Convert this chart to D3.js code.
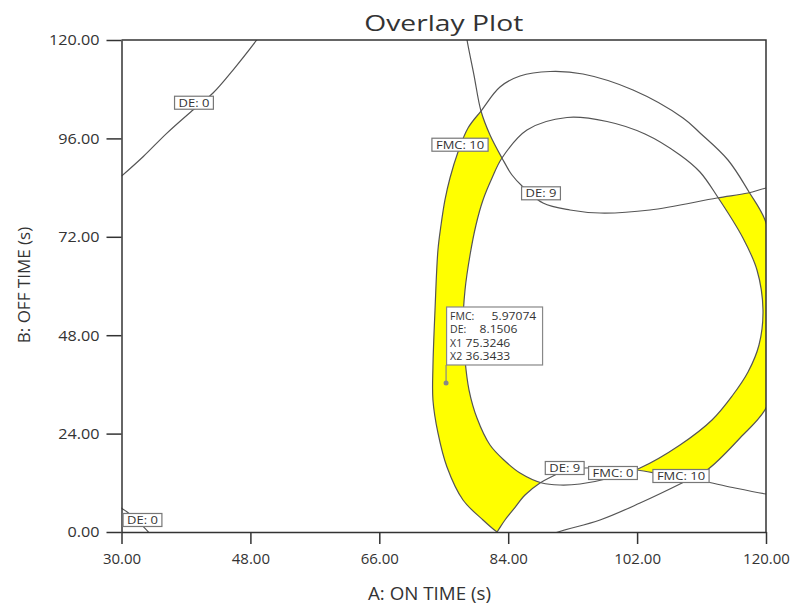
<!DOCTYPE html>
<html>
<head>
<meta charset="utf-8">
<script src="https://cdn.jsdelivr.net/npm/d3@7"></script>
<style>
  body { margin: 0; background: #fff; }
  svg text { font-family: "Open Sans", sans-serif; fill: #333; }
</style>
</head>
<body>
<script>
// axes: A = ON TIME (s), B = OFF TIME (s)
const xTicks = [30, 48, 66, 84, 102, 120];
const yTicks = [0, 24, 48, 72, 96, 120];

// contour lines, [ON TIME, OFF TIME]
const de0Top = [[30, 86.8], [33.05, 91.6], [36.31, 97.24], [39.98, 102.93], [42.78, 107.07], [45.57, 112.68], [48.88, 120], [49.3, 121]];
const de0Bottom = [[29.8, 6.1], [30, 5.8], [30.7, 5.0], [32.0, 3.1], [33.05, 1.3], [33.74, 0], [34.0, -0.6]];
const de9Top = [[78.1, 122], [78.25, 120], [79.22, 111.46], [80.2, 102.68], [81.46, 96.83], [83.13, 91.22], [84.53, 87.07],
  [86.07, 84.15], [88.86, 80.24], [92.63, 78.54], [96.82, 77.8], [103.8, 78.54], [113.16, 81.46], [117.49, 82.68], [120, 83.9], [121.5, 84.3]];
const de9Bottom = [[81.9, -1.2], [82.44, 0], [83.55, 2.93], [84.67, 5.37], [86.35, 9.02], [88.44, 11.95], [90.26, 13.66], [91.93, 15.12],
  [94.72, 15.61], [98.22, 15.61], [101.99, 15.12], [105.2, 14.15], [108.41, 13.17], [111.76, 12.2], [115.67, 10.73], [120, 9.27], [121.5, 8.9]];
// closed contours
const fmc10 = [[82.44, 0], [80.48, 2.93], [77.69, 7.8], [75.45, 15.85], [74.19, 24.15], [73.49, 32.2], [73.49, 40.24], [73.78, 54.15],
  [74.19, 68.78], [74.62, 74.88], [75.17, 80.98], [75.87, 86.34], [76.99, 92.68], [78.39, 98.54], [80.2, 102.68], [82.85, 108.54],
  [85.65, 111.22], [89.84, 112.32], [94.44, 111.71], [101.43, 107.8], [108.41, 100.98], [110.79, 97.32], [114.69, 90.73], [117.63, 82.93],
  [119.86, 76.1], [121.4, 63.9], [121.82, 51.71], [121.26, 39.51], [120, 30.24], [116.37, 22.93], [111.76, 15.12], [108.27, 11.95],
  [102.41, 7.07], [96.82, 2.93], [90.96, 0], [87.05, -2.44], [84.25, -1.95]];
const fmc0 = [[83.13, 91.22], [86.62, 98.05], [92.21, 101.1], [97.8, 100.12], [103.1, 97.07], [107.99, 91.95], [110.78, 87.8],
  [113.16, 81.95], [116.78, 71.71], [118.74, 63.9], [119.58, 54.15], [119.02, 45.61], [117.49, 39.02], [115.27, 33.17], [112.46, 27.32],
  [107.99, 21.22], [102.41, 15.61], [98.22, 13.17], [94.03, 11.71], [91.24, 11.46], [88.72, 11.95], [85.65, 14.39], [83.55, 17.32],
  [81.46, 21.22], [79.64, 27.8], [78.53, 34.63], [77.97, 41.95], [77.69, 50.49], [77.97, 59.02], [78.67, 67.56], [79.5, 74.88],
  [80.48, 80.98], [81.74, 86.34]];

// contour tags
const tagText = ["DE: 0", "DE: 0", "FMC: 10", "DE: 9", "DE: 9", "FMC: 0", "FMC: 10"];
const tagX = [40.12, 32.93, 77.27, 88.58, 91.89, 98.63, 108.13];
const tagY = [104.7, 2.93, 94.46, 82.61, 15.61, 14.39, 13.66];

// flagged point
const flagNames = ["FMC:", "DE:", "X1", "X2"];
const flagValues = ["5.97074", "8.1506", "75.3246", "36.3433"];
const flagX = 75.3246, flagY = 36.3433;

const W = 795, H = 605;
const margin = { top: 40, right: 29, bottom: 73, left: 121.5 };
const width = W - margin.left - margin.right,
  height = H - margin.top - margin.bottom;

const svg = d3.select("body").append("svg")
  .attr("width", W).attr("height", H);

const x = d3.scaleLinear().domain([30, 120]).range([margin.left, margin.left + width]);
const y = d3.scaleLinear().domain([0, 120]).range([margin.top + height, margin.top]);

const open = d3.line().x(d => x(d[0])).y(d => y(d[1])).curve(d3.curveCatmullRom.alpha(0.5));
const closed = d3.line().x(d => x(d[0])).y(d => y(d[1])).curve(d3.curveCatmullRomClosed.alpha(0.5));
const pt = (a, b) => x(a) + "," + y(b);

// the reference text runs a little wide, so stretch it
function widen(sel, k) {
  sel.each(function () {
    const w = this.getComputedTextLength();
    d3.select(this).attr("textLength", w * k).attr("lengthAdjust", "spacingAndGlyphs");
  });
}

const defs = svg.append("defs");
defs.append("clipPath").attr("id", "plotClip")
  .append("rect").attr("x", x(30)).attr("y", y(120)).attr("width", width).attr("height", height);

// region where DE sits between the two DE: 9 contours
const clipD = "M" + pt(60, 130) + "L" + pt(78.1, 130)
  + open(de9Top).replace(/^M/, "L")
  + "L" + pt(130, 84.3) + "L" + pt(130, 8.9)
  + open(de9Bottom.slice().reverse()).replace(/^M/, "L")
  + "L" + pt(81.9, -10) + "L" + pt(60, -10) + "Z";
defs.append("clipPath").attr("id", "deClip")
  .append("path").attr("d", clipD);

const plot = svg.append("g").attr("clip-path", "url(#plotClip)");

// yellow: between FMC 0 and FMC 10, inside DE region
plot.append("g").attr("clip-path", "url(#deClip)")
  .append("path")
  .attr("d", closed(fmc10) + closed(fmc0))
  .attr("fill", "#ffff00")
  .attr("fill-rule", "evenodd");

const lines = [de0Top, de0Bottom, de9Top, de9Bottom];
plot.selectAll(".open").data(lines).join("path")
  .attr("class", "open")
  .attr("d", open)
  .attr("fill", "none").attr("stroke", "#555").attr("stroke-width", 1.2);
plot.selectAll(".ring").data([fmc10, fmc0]).join("path")
  .attr("class", "ring")
  .attr("d", closed)
  .attr("fill", "none").attr("stroke", "#555").attr("stroke-width", 1.2);

// axes
svg.append("g")
  .attr("transform", "translate(0," + y(0) + ")")
  .call(d3.axisBottom(x).tickValues(xTicks).tickFormat(d3.format(".2f")).tickSizeInner(12).tickSizeOuter(0).tickPadding(9))
  .call(g => g.selectAll("text").style("font-size", "15px").attr("fill", "#333"));
svg.append("g")
  .attr("transform", "translate(" + x(30) + ",0)")
  .call(d3.axisLeft(y).tickValues(yTicks).tickFormat(d3.format(".2f")).tickSizeInner(15).tickSizeOuter(0).tickPadding(7))
  .call(g => g.selectAll("text").style("font-size", "15px").attr("fill", "#333"))
  .call(g => widen(g.selectAll("text"), 1.08));
svg.selectAll(".domain, .tick line").attr("stroke", "#333").attr("stroke-width", 1.5);

// top and right frame
svg.append("path")
  .attr("d", "M" + pt(30, 120) + "H" + x(120) + "V" + y(0))
  .attr("fill", "none").attr("stroke", "#333").attr("stroke-width", 1.5);

// contour tags
const tags = svg.append("g").selectAll("g").data(tagText).join("g")
  .attr("transform", (d, i) => "translate(" + x(tagX[i]) + "," + y(tagY[i]) + ")");
tags.append("text")
  .attr("text-anchor", "middle").attr("dy", "0.35em")
  .style("font-size", "11px").attr("fill", "#444")
  .text(d => d)
  .call(widen, 1.18);
tags.each(function () {
  const g = d3.select(this);
  const w = +g.select("text").attr("textLength");
  g.insert("rect", "text")
    .attr("x", -w / 2 - 4).attr("y", -6.5).attr("width", w + 8).attr("height", 13)
    .attr("fill", "#fff").attr("stroke", "#777").attr("stroke-width", 1.2);
});

// flagged point with its readout
const fx = x(flagX), fy = y(flagY);
const flag = svg.append("g");
flag.append("line").attr("x1", fx).attr("x2", fx).attr("y1", fy).attr("y2", fy - 18)
  .attr("stroke", "#888").attr("stroke-width", 1.2);
flag.append("circle").attr("cx", fx).attr("cy", fy).attr("r", 2.5).attr("fill", "#888");
flag.append("rect").attr("x", fx + 0.5).attr("y", fy - 76).attr("width", 96).attr("height", 58)
  .attr("fill", "#fff").attr("stroke", "#888").attr("stroke-width", 1.2);
const valueOffset = [45, 33, 19, 19];
flagNames.forEach((n, i) => {
  flag.append("text").attr("x", fx + 4).attr("y", fy - 63 + i * 13.5)
    .style("font-size", "10.5px").attr("fill", "#444").text(n);
  flag.append("text").attr("x", fx + 0.5 + valueOffset[i]).attr("y", fy - 63 + i * 13.5)
    .style("font-size", "11px").attr("fill", "#444").text(flagValues[i])
    .call(widen, 1.1);
});

// titles
svg.append("text")
  .attr("x", (x(30) + x(120)) / 2).attr("y", 31)
  .attr("text-anchor", "middle")
  .style("font-size", "21px")
  .attr("textLength", 159).attr("lengthAdjust", "spacingAndGlyphs")
  .text("Overlay Plot");
svg.append("text")
  .attr("x", 368).attr("y", 600)
  .style("font-size", "18px")
  .attr("textLength", 123).attr("lengthAdjust", "spacingAndGlyphs")
  .text("A: ON TIME (s)");
svg.append("text")
  .attr("transform", "translate(30,285) rotate(-90)")
  .attr("text-anchor", "middle")
  .style("font-size", "17px")
  .text("B: OFF TIME (s)");
</script>
</body>
</html>
